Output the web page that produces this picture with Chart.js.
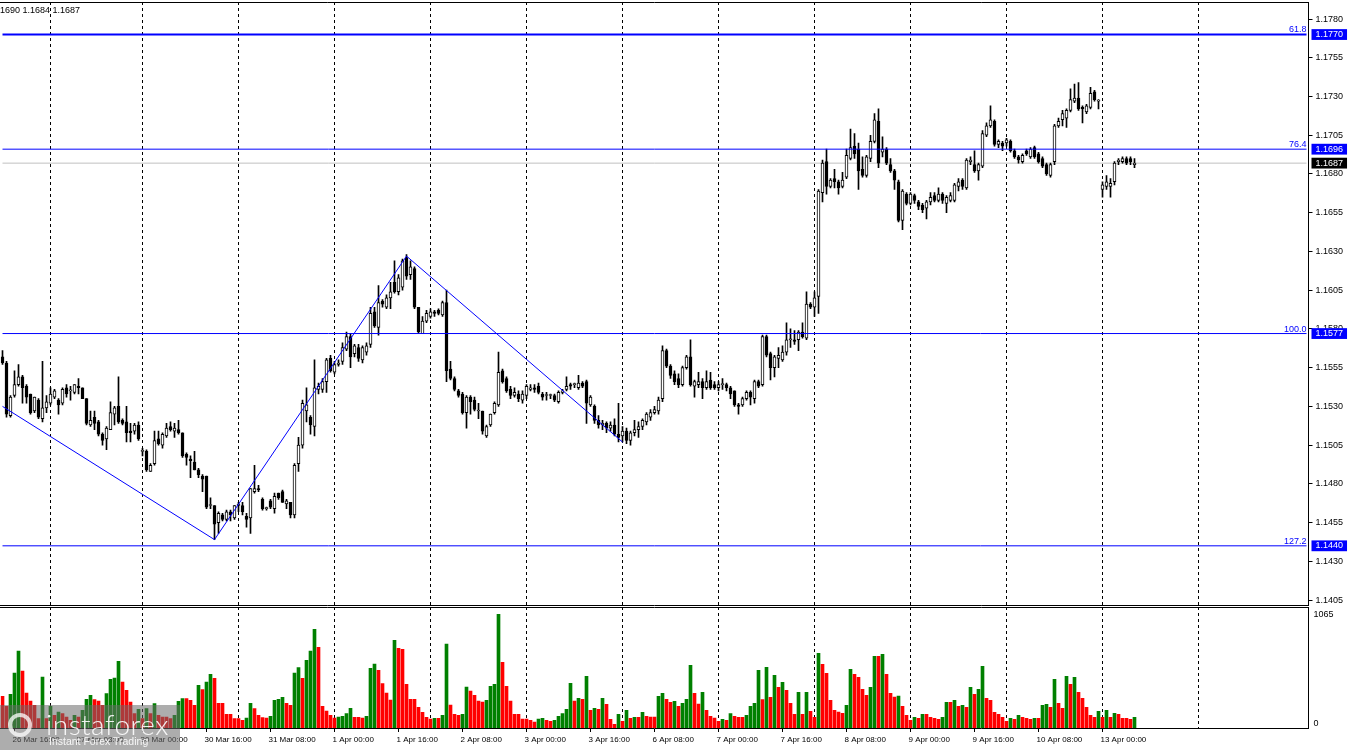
<!DOCTYPE html>
<html>
<head>
<meta charset="utf-8">
<script src="https://cdn.jsdelivr.net/npm/chart.js@4.4.1/dist/chart.umd.min.js"></script>
<style>
  html, body { margin: 0; padding: 0; background: #fff; }
  #wrap { position: relative; width: 1350px; height: 750px; overflow: hidden; font-family: 'Liberation Sans', Arial, sans-serif; }
  #price { position: absolute; left: 0; top: 0; }
  #volume { position: absolute; left: 0; top: 606px; }
  #ohlc { position: absolute; left: 0; top: 5px; font-size: 9px; line-height: 10px; color: #000; }
  #logo { position: absolute; left: 0; top: 705px; width: 180px; height: 45px; background: rgba(105,105,105,0.55); color: rgba(255,255,255,0.9); }
  #logo .big { position: absolute; left: 46px; top: 2px; font-family: Lato, sans-serif; font-weight: 300; font-size: 28px; letter-spacing: 0.5px; }
  #logo .small { position: absolute; left: 49px; top: 30px; font-size: 10.5px; }
  #logo .gear { position: absolute; left: 8px; top: 8px; width: 24px; height: 24px; border: 4px solid rgba(255,255,255,0.75); border-radius: 50%; box-sizing: border-box; }
</style>
</head>
<body>
<div id="wrap">
  <canvas id="price" width="1350" height="606"></canvas>
  <canvas id="volume" width="1350" height="144"></canvas>
  <div id="ohlc">1690 1.1684 1.1687</div>
  <div id="logo"><div class="gear"></div><span class="big">instaforex</span><span class="small">Instant Forex Trading</span></div>
</div>
<script>
// EURUSD H1, one entry per hourly bar
const OPEN = [
  1.1562,1.1558,1.1524,1.1537,1.1544,1.1549,1.1543,1.1538,1.1527,1.1534,1.1522,1.1529,
  1.1532,1.1536,1.1534,1.1532,1.1542,1.1540,1.1539,1.1543,1.1542,1.1535,1.1518,1.1523,
  1.1520,1.1512,1.1509,1.1515,1.1525,1.1530,1.1521,1.1520,1.1514,1.1514,1.1518,1.1501,
  1.1501,1.1488,1.1493,1.1509,1.1505,1.1511,1.1517,1.1514,1.1515,1.1513,1.1499,1.1496,
  1.1494,1.1489,1.1485,1.1485,1.1466,1.1466,1.1455,1.1460,1.1457,1.1462,1.1458,1.1466,
  1.1466,1.1459,1.1458,1.1475,1.1477,1.1470,1.1464,1.1469,1.1464,1.1474,1.1475,1.1467,
  1.1468,1.1460,1.1493,1.1505,1.1527,1.1523,1.1517,1.1541,1.1541,1.1546,1.1561,1.1552,
  1.1557,1.1559,1.1567,1.1575,1.1564,1.1568,1.1560,1.1565,1.1570,1.1591,1.1581,1.1598,
  1.1594,1.1600,1.1610,1.1604,1.1607,1.1626,1.1615,1.1619,1.1594,1.1577,1.1585,1.1588,
  1.1591,1.1592,1.1589,1.1597,1.1554,1.1548,1.1540,1.1538,1.1526,1.1536,1.1534,1.1527,
  1.1527,1.1511,1.1518,1.1526,1.1531,1.1553,1.1548,1.1541,1.1537,1.1538,1.1534,1.1537,
  1.1541,1.1542,1.1543,1.1538,1.1537,1.1537,1.1537,1.1533,1.1539,1.1541,1.1544,1.1544,
  1.1542,1.1545,1.1546,1.1531,1.1530,1.1521,1.1518,1.1519,1.1516,1.1518,1.1512,1.1511,
  1.1514,1.1508,1.1513,1.1515,1.1517,1.1520,1.1523,1.1526,1.1527,1.1535,1.1566,1.1556,
  1.1551,1.1548,1.1544,1.1555,1.1562,1.1543,1.1544,1.1546,1.1542,1.1547,1.1544,1.1542,
  1.1544,1.1544,1.1542,1.1540,1.1531,1.1531,1.1535,1.1539,1.1535,1.1546,1.1544,1.1575,
  1.1564,1.1555,1.1561,1.1560,1.1565,1.1573,1.1573,1.1573,1.1578,1.1574,1.1596,1.1594,
  1.1601,1.1668,1.1688,1.1672,1.1677,1.1675,1.1672,1.1678,1.1690,1.1698,1.1696,1.1683,
  1.1679,1.1690,1.1701,1.1714,1.1694,1.1696,1.1686,1.1682,1.1675,1.1650,1.1667,1.1661,
  1.1666,1.1662,1.1660,1.1658,1.1662,1.1666,1.1663,1.1667,1.1661,1.1663,1.1663,1.1672,
  1.1676,1.1671,1.1688,1.1686,1.1682,1.1685,1.1705,1.1711,1.1714,1.1699,1.1700,1.1700,
  1.1701,1.1695,1.1691,1.1688,1.1695,1.1691,1.1697,1.1693,1.1690,1.1686,1.1679,1.1688,
  1.1711,1.1715,1.1716,1.1721,1.1727,1.1729,1.1723,1.1720,1.1723,1.1733,1.1727,1.1670,
  1.1672,1.1672,1.1675,1.1688,1.1688,1.1690,1.1690,1.1686,
];
const HIGH = [
  1.1566,1.1559,1.1537,1.1553,1.1557,1.1550,1.1544,1.1538,1.1536,1.1535,1.1559,1.1537,
  1.1542,1.1541,1.1535,1.1542,1.1544,1.1543,1.1544,1.1548,1.1542,1.1535,1.1527,1.1527,
  1.1521,1.1513,1.1517,1.1533,1.1530,1.1549,1.1522,1.1530,1.1519,1.1519,1.1520,1.1503,
  1.1502,1.1493,1.1514,1.1514,1.1513,1.1519,1.1520,1.1519,1.1521,1.1513,1.1500,1.1498,
  1.1501,1.1490,1.1486,1.1485,1.1471,1.1466,1.1462,1.1461,1.1463,1.1463,1.1466,1.1468,
  1.1468,1.1461,1.1477,1.1492,1.1479,1.1471,1.1465,1.1470,1.1474,1.1474,1.1476,1.1470,
  1.1468,1.1493,1.1510,1.1534,1.1542,1.1524,1.1560,1.1545,1.1548,1.1561,1.1563,1.1559,
  1.1560,1.1571,1.1578,1.1577,1.1570,1.1570,1.1569,1.1571,1.1594,1.1594,1.1608,1.1599,
  1.1602,1.1610,1.1624,1.1615,1.1625,1.1628,1.1624,1.1620,1.1594,1.1588,1.1592,1.1593,
  1.1592,1.1593,1.1598,1.1605,1.1559,1.1549,1.1541,1.1539,1.1537,1.1537,1.1536,1.1532,
  1.1527,1.1518,1.1525,1.1533,1.1565,1.1554,1.1549,1.1543,1.1542,1.1540,1.1540,1.1544,
  1.1544,1.1544,1.1545,1.1539,1.1539,1.1538,1.1538,1.1540,1.1541,1.1549,1.1545,1.1545,
  1.1550,1.1546,1.1547,1.1537,1.1531,1.1524,1.1521,1.1520,1.1520,1.1522,1.1532,1.1517,
  1.1516,1.1514,1.1521,1.1520,1.1522,1.1526,1.1528,1.1530,1.1536,1.1569,1.1567,1.1557,
  1.1553,1.1551,1.1556,1.1563,1.1573,1.1547,1.1552,1.1548,1.1553,1.1552,1.1546,1.1546,
  1.1548,1.1545,1.1543,1.1540,1.1532,1.1536,1.1540,1.1540,1.1547,1.1547,1.1576,1.1576,
  1.1565,1.1563,1.1568,1.1569,1.1584,1.1580,1.1579,1.1579,1.1584,1.1604,1.1597,1.1604,
  1.1670,1.1689,1.1696,1.1677,1.1683,1.1676,1.1681,1.1696,1.1709,1.1706,1.1700,1.1691,
  1.1692,1.1705,1.1719,1.1722,1.1704,1.1697,1.1690,1.1683,1.1676,1.1670,1.1668,1.1668,
  1.1667,1.1663,1.1661,1.1663,1.1668,1.1668,1.1671,1.1668,1.1666,1.1668,1.1674,1.1677,
  1.1677,1.1690,1.1691,1.1695,1.1687,1.1708,1.1713,1.1724,1.1715,1.1702,1.1701,1.1703,
  1.1702,1.1696,1.1692,1.1693,1.1696,1.1697,1.1698,1.1694,1.1691,1.1687,1.1687,1.1712,
  1.1716,1.1721,1.1722,1.1735,1.1738,1.1739,1.1724,1.1725,1.1736,1.1734,1.1728,1.1675,
  1.1679,1.1677,1.1688,1.1690,1.1691,1.1691,1.1691,1.1690,
];
const LOW = [
  1.1557,1.1523,1.1523,1.1536,1.1543,1.1532,1.1532,1.1525,1.1526,1.1522,1.1520,1.1526,
  1.1531,1.1535,1.1525,1.1531,1.1536,1.1534,1.1538,1.1538,1.1535,1.1518,1.1517,1.1515,
  1.1511,1.1505,1.1502,1.1515,1.1518,1.1519,1.1518,1.1507,1.1507,1.1512,1.1508,1.1498,
  1.1488,1.1488,1.1492,1.1505,1.1503,1.1510,1.1514,1.1510,1.1512,1.1497,1.1492,1.1484,
  1.1489,1.1484,1.1475,1.1464,1.1464,1.1444,1.1448,1.1456,1.1456,1.1456,1.1457,1.1462,
  1.1460,1.1452,1.1448,1.1474,1.1475,1.1463,1.1463,1.1464,1.1461,1.1470,1.1468,1.1464,
  1.1458,1.1458,1.1488,1.1503,1.1520,1.1512,1.1511,1.1538,1.1539,1.1539,1.1552,1.1551,
  1.1556,1.1557,1.1566,1.1555,1.1562,1.1559,1.1558,1.1563,1.1568,1.1581,1.1576,1.1594,
  1.1593,1.1593,1.1603,1.1602,1.1605,1.1612,1.1612,1.1593,1.1577,1.1577,1.1584,1.1587,
  1.1588,1.1589,1.1588,1.1546,1.1547,1.1540,1.1536,1.1525,1.1516,1.1525,1.1527,1.1522,
  1.1512,1.1510,1.1517,1.1525,1.1530,1.1545,1.1539,1.1535,1.1536,1.1533,1.1532,1.1535,
  1.1540,1.1539,1.1538,1.1534,1.1534,1.1535,1.1533,1.1532,1.1538,1.1540,1.1541,1.1542,
  1.1541,1.1542,1.1519,1.1530,1.1519,1.1516,1.1515,1.1513,1.1514,1.1511,1.1507,1.1507,
  1.1506,1.1505,1.1511,1.1510,1.1515,1.1518,1.1521,1.1525,1.1525,1.1533,1.1555,1.1548,
  1.1544,1.1542,1.1543,1.1554,1.1543,1.1536,1.1542,1.1535,1.1541,1.1541,1.1541,1.1540,
  1.1541,1.1540,1.1535,1.1530,1.1525,1.1530,1.1534,1.1531,1.1532,1.1542,1.1543,1.1562,
  1.1547,1.1549,1.1555,1.1559,1.1563,1.1568,1.1570,1.1566,1.1574,1.1573,1.1593,1.1588,
  1.1590,1.1662,1.1667,1.1671,1.1671,1.1667,1.1671,1.1677,1.1689,1.1690,1.1670,1.1678,
  1.1678,1.1688,1.1700,1.1684,1.1691,1.1686,1.1681,1.1670,1.1649,1.1644,1.1660,1.1660,
  1.1661,1.1657,1.1655,1.1651,1.1660,1.1662,1.1662,1.1661,1.1655,1.1662,1.1662,1.1669,
  1.1670,1.1670,1.1686,1.1681,1.1676,1.1684,1.1704,1.1710,1.1698,1.1697,1.1695,1.1698,
  1.1694,1.1690,1.1687,1.1687,1.1692,1.1690,1.1690,1.1687,1.1684,1.1679,1.1678,1.1686,
  1.1710,1.1711,1.1710,1.1720,1.1726,1.1721,1.1713,1.1719,1.1722,1.1727,1.1722,1.1665,
  1.1670,1.1665,1.1673,1.1686,1.1687,1.1686,1.1686,1.1684,
];
const CLOSE = [
  1.1558,1.1525,1.1536,1.1544,1.1549,1.1542,1.1536,1.1526,1.1536,1.1523,1.1529,1.1533,
  1.1538,1.1540,1.1531,1.1541,1.1538,1.1540,1.1544,1.1542,1.1535,1.1519,1.1521,1.1519,
  1.1512,1.1508,1.1516,1.1526,1.1529,1.1520,1.1519,1.1513,1.1513,1.1518,1.1509,1.1501,
  1.1489,1.1492,1.1508,1.1506,1.1512,1.1516,1.1515,1.1516,1.1513,1.1498,1.1497,1.1495,
  1.1489,1.1486,1.1483,1.1465,1.1466,1.1454,1.1461,1.1457,1.1462,1.1460,1.1466,1.1467,
  1.1462,1.1457,1.1477,1.1477,1.1476,1.1464,1.1464,1.1465,1.1472,1.1471,1.1468,1.1469,
  1.1460,1.1492,1.1505,1.1532,1.1531,1.1518,1.1542,1.1543,1.1546,1.1560,1.1553,1.1557,
  1.1558,1.1568,1.1575,1.1562,1.1569,1.1561,1.1568,1.1569,1.1590,1.1582,1.1597,1.1596,
  1.1600,1.1604,1.1604,1.1613,1.1624,1.1614,1.1620,1.1594,1.1578,1.1585,1.1590,1.1591,
  1.1590,1.1590,1.1597,1.1553,1.1548,1.1541,1.1537,1.1526,1.1536,1.1533,1.1528,1.1527,
  1.1514,1.1517,1.1525,1.1532,1.1552,1.1546,1.1540,1.1537,1.1539,1.1535,1.1538,1.1543,
  1.1542,1.1541,1.1539,1.1536,1.1537,1.1537,1.1534,1.1539,1.1540,1.1543,1.1543,1.1544,
  1.1545,1.1543,1.1532,1.1536,1.1521,1.1518,1.1519,1.1516,1.1518,1.1512,1.1510,1.1514,
  1.1508,1.1513,1.1515,1.1517,1.1521,1.1525,1.1526,1.1528,1.1534,1.1566,1.1556,1.1550,
  1.1546,1.1544,1.1555,1.1562,1.1544,1.1546,1.1546,1.1542,1.1546,1.1542,1.1542,1.1544,
  1.1544,1.1542,1.1538,1.1531,1.1530,1.1535,1.1539,1.1536,1.1546,1.1543,1.1575,1.1563,
  1.1555,1.1562,1.1563,1.1565,1.1573,1.1573,1.1572,1.1578,1.1575,1.1596,1.1594,1.1600,
  1.1669,1.1687,1.1672,1.1676,1.1675,1.1671,1.1676,1.1692,1.1697,1.1693,1.1682,1.1679,
  1.1691,1.1701,1.1715,1.1687,1.1696,1.1687,1.1682,1.1676,1.1650,1.1669,1.1661,1.1667,
  1.1663,1.1659,1.1657,1.1662,1.1665,1.1663,1.1667,1.1663,1.1665,1.1666,1.1673,1.1675,
  1.1672,1.1689,1.1689,1.1682,1.1686,1.1706,1.1711,1.1715,1.1699,1.1701,1.1698,1.1702,
  1.1695,1.1691,1.1689,1.1692,1.1693,1.1696,1.1691,1.1688,1.1685,1.1680,1.1686,1.1711,
  1.1714,1.1719,1.1721,1.1728,1.1729,1.1722,1.1722,1.1724,1.1732,1.1728,1.1727,1.1673,
  1.1675,1.1674,1.1687,1.1689,1.1690,1.1687,1.1688,1.1687,
];
const VOLUME = [
  285,195,303,495,693,513,315,243,204,84,459,84,
  195,114,144,129,99,69,114,99,159,258,294,255,
  243,204,309,438,450,600,414,339,234,129,168,84,
  174,129,219,114,99,99,84,114,240,264,264,249,
  204,384,345,414,483,447,222,222,123,123,84,84,
  69,90,222,174,114,93,90,105,249,258,276,222,
  204,495,543,447,609,693,888,726,195,153,114,90,
  99,105,129,177,96,96,90,105,537,576,519,399,
  315,252,789,717,708,393,258,258,186,141,96,81,
  87,87,114,756,207,123,114,123,369,333,294,243,
  234,249,375,393,1023,591,375,243,123,123,81,81,
  69,54,81,87,69,60,69,105,129,168,402,243,
  267,258,465,159,177,168,267,213,78,33,123,60,
  159,87,96,96,141,105,99,99,285,312,258,231,
  240,195,222,258,564,312,216,321,159,105,90,60,
  78,69,129,105,96,96,114,195,222,519,255,546,
  276,474,366,411,339,222,123,321,123,321,150,96,
  672,573,492,249,159,144,132,204,528,483,456,348,
  294,366,645,645,663,483,312,279,288,195,114,69,
  96,87,123,123,96,87,78,96,231,231,249,195,
  204,186,366,303,348,555,267,249,141,123,96,60,
  87,78,114,96,87,78,87,87,204,213,186,438,
  222,177,465,393,456,321,267,186,114,96,150,96,
  159,96,132,123,87,87,78,96,
];

const SLOTS = 327; // bar slots on screen, the right part is left empty
const TIME_LABEL_BARS = [3, 19, 35, 51, 67, 83, 99, 115, 131, 147, 163, 179, 195, 211, 227, 243, 259, 275];
const TIME_LABELS = ['26 Mar 16:00', '27 Mar 08:00', '30 Mar 00:00', '30 Mar 16:00', '31 Mar 08:00', '1 Apr 00:00',
  '1 Apr 16:00', '2 Apr 08:00', '3 Apr 00:00', '3 Apr 16:00', '6 Apr 08:00', '7 Apr 00:00', '7 Apr 16:00',
  '8 Apr 08:00', '9 Apr 00:00', '9 Apr 16:00', '10 Apr 08:00', '13 Apr 00:00'];
const GRID_BARS = [12, 35, 59, 83, 107, 131, 155, 179, 203, 227, 251, 275, 299];

const PRICE_TICKS = [1.1780, 1.1755, 1.1730, 1.1705, 1.1680, 1.1655, 1.1630, 1.1605, 1.1580, 1.1555,
  1.1530, 1.1505, 1.1480, 1.1455, 1.1430, 1.1405];
const FIB_LEVELS = [1.1770, 1.1696, 1.1577, 1.1440];
const FIB_NAMES = ['61.8', '76.4', '100.0', '127.2'];
const LAST_PRICE = 1.1687;
const ZIGZAG_BARS = [0, 53, 101, 155];
const ZIGZAG_PRICES = [1.1530, 1.1444, 1.1627, 1.1507];
const VOL_MAX_LABEL = 1065;

const FONT = "'Liberation Sans', Arial, sans-serif";
const slots = Array.from({ length: SLOTS }, (_, i) => i);
const gridColor = c => GRID_BARS.includes(c.index) ? '#000' : 'transparent';
const noPad = s => { s.paddingLeft = 0; s.paddingRight = 0; s.paddingTop = 0; s.paddingBottom = 0; };

// text of the fibonacci levels, right end of each line
const fibLabels = {
  id: 'fibLabels',
  afterDatasetsDraw(chart) {
    const { ctx, chartArea, scales: { y } } = chart;
    ctx.save();
    ctx.font = '9px ' + FONT;
    ctx.fillStyle = '#0000ff';
    ctx.textAlign = 'right';
    ctx.textBaseline = 'bottom';
    FIB_LEVELS.forEach((lvl, k) => {
      ctx.fillText(FIB_NAMES[k], chartArea.right - 2, y.getPixelForValue(lvl) - (k === 0 ? 1 : 0));
    });
    ctx.restore();
  },
};

const flatLine = v => [{ x: 0, y: v }, { x: SLOTS - 1, y: v }];

new Chart(document.getElementById('price'), {
  type: 'bar',
  data: {
    labels: slots,
    datasets: [
      { label: 'wick', data: LOW.map((l, i) => [l, HIGH[i]]), backgroundColor: '#000',
        barThickness: 1, grouped: false, order: 3 },
      { label: 'body', data: OPEN.map((o, i) => [o, CLOSE[i]]),
        backgroundColor: c => CLOSE[c.dataIndex] >= OPEN[c.dataIndex] ? '#fff' : '#000',
        borderColor: '#000', borderWidth: 1, borderSkipped: false, barThickness: 3, minBarLength: 1,
        grouped: false, order: 2 },
      { type: 'line', label: 'last', data: flatLine(LAST_PRICE), borderColor: '#c0c0c0', borderWidth: 1,
        pointRadius: 0, order: 4 },
      ...FIB_LEVELS.map((lvl, k) => ({ type: 'line', label: FIB_NAMES[k], data: flatLine(lvl),
        borderColor: '#0000ff', borderWidth: k === 0 ? 2 : 1, pointRadius: 0, order: 1 })),
      { type: 'line', label: 'zigzag', data: ZIGZAG_BARS.map((b, k) => ({ x: b, y: ZIGZAG_PRICES[k] })),
        borderColor: '#0000ff', borderWidth: 1, pointRadius: 0, tension: 0, order: 0 },
    ],
  },
  options: {
    responsive: false,
    animation: false,
    events: [],
    layout: { padding: { top: 2, bottom: 1, left: 0.5, right: 0 } },
    plugins: { legend: { display: false }, tooltip: { enabled: false } },
    scales: {
      x: {
        type: 'category', offset: true,
        afterFit: s => { s.height = 0; noPad(s); },
        ticks: { display: false, autoSkip: false },
        grid: { offset: false, drawTicks: false, color: gridColor },
        border: { display: true, color: '#000', dash: [3, 3] },
      },
      xTop: {
        type: 'linear', position: 'top',
        afterFit: s => { s.height = 0; noPad(s); },
        ticks: { display: false }, grid: { display: false },
        border: { display: true, color: '#000' },
      },
      y: {
        position: 'right', min: 1.14018, max: 1.1791,
        afterFit: s => { s.width = 41.5; noPad(s); },
        afterBuildTicks: s => {
          s.ticks = PRICE_TICKS.map(v => ({ value: v }))
            .concat(FIB_LEVELS.map(v => ({ value: v, box: '#0000ff' })))
            .concat([{ value: LAST_PRICE, box: '#000' }]);
        },
        border: { display: true, color: '#000' },
        grid: { display: true, drawOnChartArea: false, drawTicks: true, tickLength: 4,
          tickColor: c => (c.tick && c.tick.box) ? 'transparent' : '#000' },
        ticks: {
          autoSkip: false, padding: 3,
          font: { family: FONT, size: 9 },
          color: c => (c.tick && c.tick.box) ? '#fff' : '#000',
          showLabelBackdrop: c => !!(c.tick && c.tick.box),
          backdropColor: c => (c.tick && c.tick.box) || 'transparent',
          backdropPadding: { left: 4, right: 4, top: 0, bottom: 0 },
          callback: v => Number(v).toFixed(4),
        },
      },
    },
  },
  plugins: [fibLabels],
});

new Chart(document.getElementById('volume'), {
  type: 'bar',
  data: {
    labels: slots,
    datasets: [{
      label: 'volume', data: VOLUME, barThickness: 3,
      backgroundColor: c => (c.dataIndex > 0 && VOLUME[c.dataIndex] > VOLUME[c.dataIndex - 1]) ? '#008000' : '#ff0000',
    }],
  },
  options: {
    responsive: false,
    animation: false,
    events: [],
    // the right padding keeps room for the two zero-width value axes
    layout: { padding: { top: 1, bottom: 0, left: 0.5, right: 41.5 } },
    plugins: { legend: { display: false }, tooltip: { enabled: false } },
    scales: {
      x: {
        type: 'category', offset: true,
        afterFit: s => { s.height = 22; noPad(s); },
        ticks: {
          autoSkip: false, maxRotation: 0, minRotation: 0, align: 'start', padding: 3, labelOffset: -2,
          font: { family: FONT, size: 8 }, color: '#000',
          callback: (v, i) => { const k = TIME_LABEL_BARS.indexOf(i); return k >= 0 ? TIME_LABELS[k] : ''; },
        },
        grid: { offset: false, drawTicks: true, tickLength: 4, color: gridColor,
          tickColor: c => TIME_LABEL_BARS.includes(c.index) ? '#000' : 'transparent' },
        border: { display: true, color: '#000', dash: [3, 3] },
      },
      xTop: {
        type: 'linear', position: 'top',
        afterFit: s => { s.height = 0; noPad(s); },
        ticks: { display: false }, grid: { display: false },
        border: { display: true, color: '#000' },
      },
      // mirrored labels are not clipped to the (zero) axis width; padding sets where the text ends
      yZero: {
        position: 'right', min: 0, max: 1089,
        afterFit: s => { s.width = 0; noPad(s); },
        afterBuildTicks: s => { s.ticks = [{ value: 0 }]; },
        grid: { display: false, drawTicks: false }, border: { display: false },
        ticks: { mirror: true, align: 'end', padding: 10, font: { family: FONT, size: 9 }, color: '#000',
          callback: v => String(v) },
      },
      y: {
        position: 'right', min: 0, max: 1089,
        afterFit: s => { s.width = 0; noPad(s); },
        afterBuildTicks: s => { s.ticks = [{ value: VOL_MAX_LABEL }]; },
        grid: { display: false, drawTicks: false }, border: { display: true, color: '#000' },
        ticks: { mirror: true, align: 'start', padding: 25, font: { family: FONT, size: 9 }, color: '#000',
          callback: v => String(v) },
      },
    },
  },
});
</script>
</body>
</html>
